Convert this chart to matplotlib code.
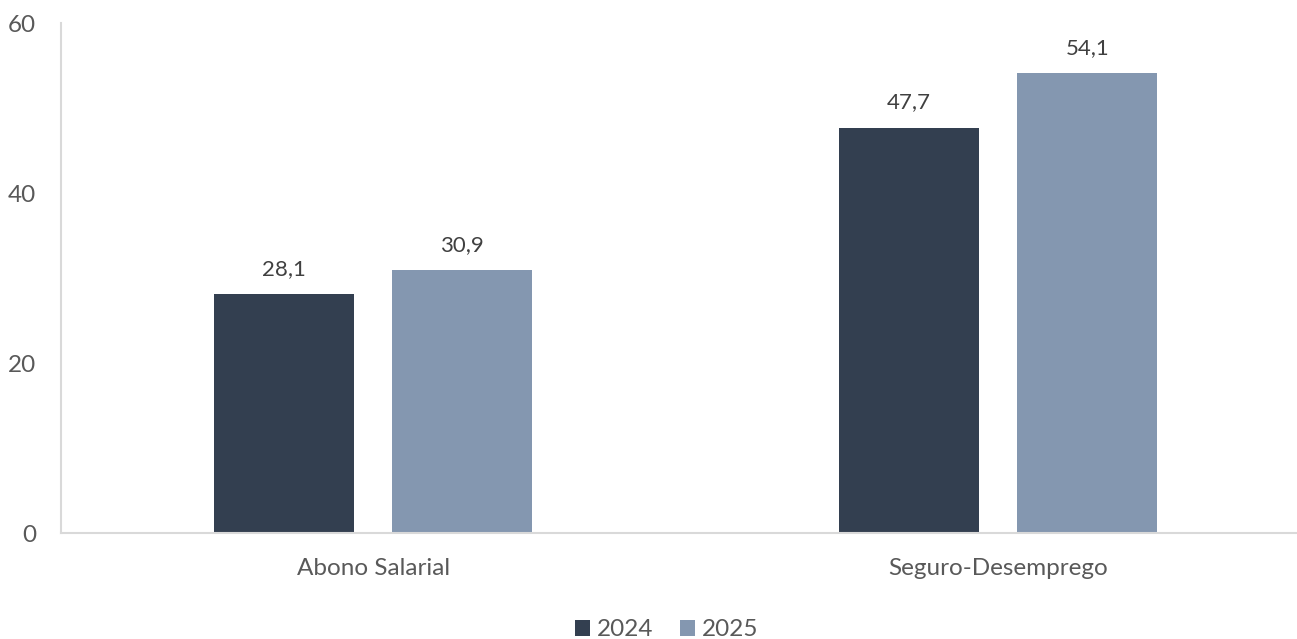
import matplotlib
matplotlib.use("Agg")
import matplotlib.pyplot as plt
import numpy as np

categories = ["Abono Salarial", "Seguro-Desemprego"]
series_names = ["2024", "2025"]
values_2024 = [28.1, 47.7]
values_2025 = [30.9, 54.1]
yticks = [0, 20, 40, 60]

colors = ["#333F50", "#8497B0"]
W, H = 1297, 639
fig = plt.figure(figsize=(W/100, H/100), dpi=100)
plt.rcParams['font.family'] = ['Lato', 'DejaVu Sans']
ax = fig.add_axes([61/W, (H-533)/H, (W-61)/W, 510/H])

x = np.arange(len(categories))
bw = 0.224
off = 0.1424
for vals, c, name, dx in [(values_2024, colors[0], series_names[0], -off),
                          (values_2025, colors[1], series_names[1], off)]:
    bars = ax.bar(x + dx, vals, width=bw, color=c, label=name, zorder=2)
    for b, v in zip(bars, vals):
        ax.annotate(f"{v:.1f}".replace(".", ","), (b.get_x() + b.get_width()/2, v),
                    xytext=(0, 11), textcoords="offset points", ha="center", va="bottom",
                    fontsize=16, color="#404040")

ax.set_xlim(-0.4992, 1.478)
ax.set_ylim(0, 60)
ax.set_yticks(yticks)
ax.set_yticklabels([str(t) for t in yticks], fontsize=17.5, color="#595959")
ax.set_xticks(x)
ax.set_xticklabels(categories, fontsize=17.5, color="#595959")
ax.tick_params(axis="y", length=0, pad=18)
ax.tick_params(axis="x", length=0, pad=18)
for s in ["top", "right"]:
    ax.spines[s].set_visible(False)
for s in ["left", "bottom"]:
    ax.spines[s].set_color("#D9D9D9")
    ax.spines[s].set_linewidth(1.5)

leg = fig.legend(loc="center", bbox_to_anchor=(667/W, 1-630/H), ncol=2, frameon=False,
                 fontsize=17.5, handlelength=0.6, handleheight=0.6, handletextpad=0.3,
                 columnspacing=1.1, labelcolor="#595959")
fig.savefig("out.png", dpi=100)
